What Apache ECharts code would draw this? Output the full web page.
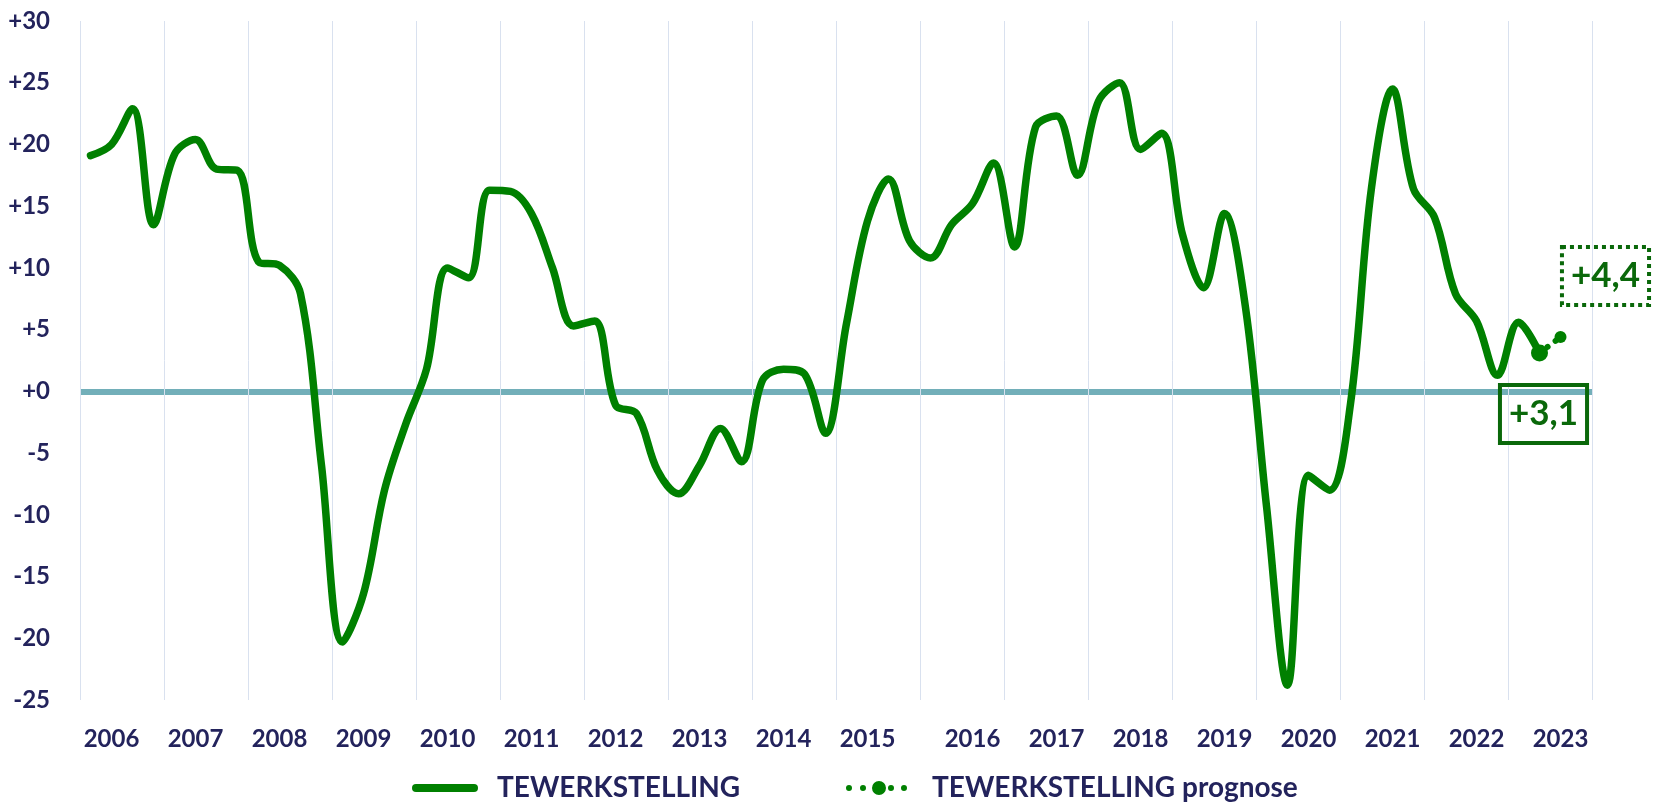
<!DOCTYPE html>
<html>
<head>
<meta charset="utf-8">
<title>Tewerkstelling</title>
<script src="https://cdn.jsdelivr.net/npm/echarts@6/dist/echarts.min.js"></script>
<style>
  html, body { margin: 0; padding: 0; background: #fff; }
  #chart { width: 1653px; height: 802px; }
</style>
</head>
<body>
<div id="chart"></div>
<script>
// jaren op de x-as (4 kwartalen per jaar)
const years = [2006, 2007, 2008, 2009, 2010, 2011, 2012, 2013, 2014, 2015,
  2016, 2017, 2018, 2019, 2020, 2021, 2022, 2023];

// TEWERKSTELLING, per kwartaal vanaf 2006 K1 t/m 2023 K2
const tewerkstelling = [
  19.1, 20.0, 22.9, 13.5,
  19.2, 20.4, 18.0, 17.9,
  10.5, 10.2, 7.9, -6.0,
  -20.3, -16.4, -8.0, -2.7,
  1.8, 10.0, 9.2, 16.3,
  16.2, 14.4, 10.0, 5.3,
  5.7, -1.1, -1.8, -6.4,
  -8.3, -6.0, -3.0, -5.7,
  0.9, 1.8, 1.4, -3.4,
  5.5, 13.8, 17.2, 12.2,
  10.8, 13.5, 15.2, 18.5,
  11.7, 21.4, 22.3, 17.5,
  23.5, 25.0, 19.6, 20.9,
  12.7, 8.4, 14.4, 6.8,
  -9.3, -23.8, -6.8, -8.0,
  -1.0, 16.5, 24.5, 16.4,
  14.1, 7.9, 5.7, 1.3,
  5.6, 3.1
];

// prognose: laatste gemeten kwartaal + volgend kwartaal
const prognose = [3.1, 4.4];

// y-as
const yMin = -25;
const yMax = 30;
const yStep = 5;

const NAVY = '#23235c';
const GREEN = '#008000';
const DARK_GREEN = '#0a680a';
const FONT = 'Lato, "Open Sans", sans-serif';

// kwartaal-categorieen
const quarters = [];
years.forEach(function (y) {
  for (let q = 1; q <= 4; q++) quarters.push(y + ' K' + q);
});

const fmt = function (v) {
  return (v >= 0 ? '+' : '') + String(v).replace('.', ',');
};
const fmtBox = function (v) {
  return (v >= 0 ? '+' : '') + v.toFixed(1).replace('.', ',');
};

// prognose-reeks op de juiste kwartalen zetten
const progStart = tewerkstelling.length - 1;
const boxBase = {
  show: true,
  position: 'inside',
  formatter: function (p) { return fmtBox(p.value); },
  fontFamily: FONT,
  fontWeight: 'bold',
  fontSize: 35,
  lineHeight: 35,
  color: DARK_GREEN,
  borderColor: DARK_GREEN,
  borderWidth: 4,
  padding: [12, 9, 11, 9]
};
const prognoseData = quarters.map(function () { return null; });
prognose.forEach(function (v, i) {
  const solid = i === 0;
  prognoseData[progStart + i] = {
    value: v,
    label: Object.assign({}, boxBase, {
      borderType: solid ? 'solid' : 'dotted',
      offset: solid ? [4, 61] : [45, -61]
    })
  };
});

// nullijn via splitLine van de y-as (alleen 0 zichtbaar)
const zeroColors = [];
for (let v = yMin; v <= yMax; v += yStep) {
  zeroColors.push(v === 0 ? '#72afb9' : 'rgba(0,0,0,0)');
}

const yearOfIdx = function (idx) { return years[Math.floor(idx / 4)]; };

const chart = echarts.init(document.getElementById('chart'));
chart.setOption({
  animation: false,
  grid: { left: 80, right: 61, top: 21, bottom: 102 },
  legend: [
    {
      data: [{
        name: 'TEWERKSTELLING',
        icon: 'path://M4,0 H62 A4,4 0 0 1 62,8 H4 A4,4 0 0 1 4,0 Z'
      }],
      left: 407,
      top: 769,
      itemWidth: 66,
      itemHeight: 8,
      textStyle: { color: NAVY, fontFamily: FONT, fontWeight: 'bold', fontSize: 28, padding: [0, 0, 0, 14] }
    },
    {
      data: [{
        name: 'TEWERKSTELLING prognose',
        icon: 'path://M0,7 a3,3 0 1,0 6,0 a3,3 0 1,0 -6,0 Z M14,7 a3,3 0 1,0 6,0 a3,3 0 1,0 -6,0 Z M26,7 a7,7 0 1,0 14,0 a7,7 0 1,0 -14,0 Z M42,7 a3,3 0 1,0 6,0 a3,3 0 1,0 -6,0 Z M55,7 a3,3 0 1,0 6,0 a3,3 0 1,0 -6,0 Z'
      }],
      left: 841,
      top: 769,
      itemWidth: 61,
      itemHeight: 14,
      textStyle: { color: NAVY, fontFamily: FONT, fontWeight: 'bold', fontSize: 28, padding: [0, 0, 0, 20] }
    }
  ],
  xAxis: {
    type: 'category',
    data: quarters,
    boundaryGap: true,
    axisLine: { show: false },
    axisTick: { show: false },
    axisLabel: {
      interval: function (idx) {
        // tot 2015 staat het jaar bij K2, vanaf 2016 bij K3
        return idx % 4 === (yearOfIdx(idx) <= 2015 ? 1 : 2);
      },
      formatter: function (val) { return val.slice(0, 4); },
      color: NAVY,
      fontFamily: FONT,
      fontWeight: 'bold',
      fontSize: 24,
      margin: 27
    },
    splitLine: {
      show: true,
      interval: function (idx) { return idx % 4 === 0; },
      lineStyle: { color: '#d9e1ef', width: 1 }
    }
  },
  yAxis: {
    type: 'value',
    min: yMin,
    max: yMax,
    interval: yStep,
    axisLine: { show: false },
    axisTick: { show: false },
    axisLabel: {
      formatter: fmt,
      color: NAVY,
      fontFamily: FONT,
      fontWeight: 'bold',
      fontSize: 24,
      margin: 30
    },
    splitLine: {
      show: true,
      lineStyle: { color: zeroColors, width: 6 }
    }
  },
  series: [
    {
      name: 'TEWERKSTELLING',
      type: 'line',
      data: tewerkstelling,
      smooth: 0.35,
      symbol: 'none',
      lineStyle: { color: GREEN, width: 7.5, cap: 'round', join: 'round' },
      itemStyle: { color: GREEN },
      z: 3
    },
    {
      name: 'TEWERKSTELLING prognose',
      type: 'line',
      data: prognoseData,
      symbol: 'circle',
      symbolSize: function (v, p) { return p.dataIndex === progStart ? 17 : 12; },
      showAllSymbol: true,
      lineStyle: { color: GREEN, width: 6, type: [0.1, 10], cap: 'round' },
      itemStyle: { color: GREEN },
      z: 4
    }
  ]
});
</script>
</body>
</html>
